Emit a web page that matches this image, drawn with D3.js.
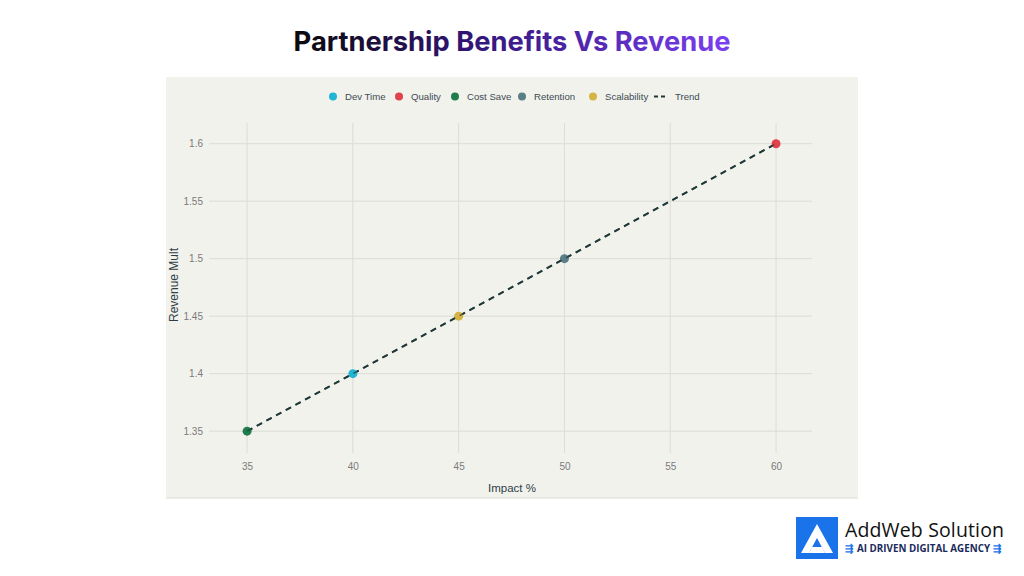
<!DOCTYPE html>
<html><head><meta charset="utf-8">
<script src="https://cdn.jsdelivr.net/npm/d3@7"></script>
<style>body{margin:0;background:#fff;}svg{display:block;font-family:"Liberation Sans",Arial,sans-serif;}</style>
</head><body>
<svg id="c" width="1024" height="576"></svg>
<script>
const categories = ["Dev Time","Quality","Cost Save","Retention","Scalability"];
const impact = [40, 60, 35, 50, 45];
const revenueMult = [1.40, 1.60, 1.35, 1.50, 1.45];
const colors = ["#22b5d3","#e0434b","#1f7d4d","#5b7f88","#d6b443"];
const trendX = [35, 60];
const trendY = [1.35, 1.60];
const xTicks = [35,40,45,50,55,60];
const yTicks = [1.35,1.40,1.45,1.50,1.55,1.60];

const svg = d3.select("#c");
const defs = svg.append("defs");
const g = defs.append("linearGradient").attr("id","tg").attr("x1","0%").attr("x2","100%");
g.append("stop").attr("offset","0%").attr("stop-color","#0a0a0a");
g.append("stop").attr("offset","42%").attr("stop-color","#32167a");
g.append("stop").attr("offset","100%").attr("stop-color","#7b3ff2");

svg.append("text").attr("x",512).attr("y",51).attr("text-anchor","middle")
  .attr("font-size",27.3).attr("font-weight",700).attr("font-family","Inter,sans-serif").attr("fill","url(#tg)")
  .text("Partnership Benefits Vs Revenue");

// panel
svg.append("rect").attr("x",166).attr("y",77).attr("width",692).attr("height",421).attr("fill","#f2f2ed");
svg.append("line").attr("x1",166).attr("x2",858).attr("y1",498).attr("y2",498).attr("stroke","#dcdcd6");

const x = d3.scaleLinear().domain([33.2,61.7]).range([209,812]);
const y = d3.scaleLinear().domain([1.331,1.618]).range([453,123]);

const grid = svg.append("g");
grid.selectAll(".vx").data(xTicks).join("line").attr("x1",d=>x(d)).attr("x2",d=>x(d))
  .attr("y1",123).attr("y2",453).attr("stroke","#dcdcd5").attr("stroke-width",1);
grid.selectAll(".hy").data(yTicks).join("line").attr("y1",d=>y(d)).attr("y2",d=>y(d))
  .attr("x1",209).attr("x2",812).attr("stroke","#dcdcd5").attr("stroke-width",1);

const xa = svg.append("g").attr("transform","translate(0,453)")
  .call(d3.axisBottom(x).tickValues(xTicks).tickSize(0).tickPadding(10).tickFormat(d3.format("d")));
const ya = svg.append("g").attr("transform","translate(209,0)")
  .call(d3.axisLeft(y).tickValues(yTicks).tickSize(0).tickPadding(6).tickFormat(d=>String(+d.toFixed(2))));
[xa,ya].forEach(a=>{a.select(".domain").remove();a.selectAll("text").attr("font-size",10).attr("fill","#7a7a7a").attr("font-family","'Liberation Sans',Arial,sans-serif");});

svg.append("text").attr("x",512).attr("y",492).attr("text-anchor","middle").attr("font-size",11.5).attr("fill","#2f3e46").text("Impact %");
svg.append("text").attr("transform","translate(178,285) rotate(-90)").attr("text-anchor","middle").attr("font-size",12).attr("fill","#2f3e46").text("Revenue Mult");

// trend
svg.append("path").datum(trendX.map((d,i)=>[d,trendY[i]]))
  .attr("d",d3.line().x(d=>x(d[0])).y(d=>y(d[1])))
  .attr("fill","none").attr("stroke","#1e3838").attr("stroke-width",2).attr("stroke-dasharray","6,5");

// points
svg.selectAll(".pt").data(categories).join("circle")
  .attr("cx",(d,i)=>x(impact[i])).attr("cy",(d,i)=>y(revenueMult[i])).attr("r",4.5)
  .attr("fill",(d,i)=>colors[i]);
svg.append("path").datum(trendX.map((d,i)=>[d,trendY[i]]))
  .attr("d",d3.line().x(d=>x(d[0])).y(d=>y(d[1])))
  .attr("fill","none").attr("stroke","#1e3838").attr("stroke-width",1.6).attr("stroke-dasharray","6,5").attr("opacity",0.7);

// legend
const leg = svg.append("g").attr("font-size",9.6).attr("fill","#3b4a52");
const legX = [333,399,455,522,593];
categories.forEach((c,i)=>{
  leg.append("circle").attr("cx",legX[i]).attr("cy",96.5).attr("r",4).attr("fill",colors[i]);
  leg.append("text").attr("x",legX[i]+12).attr("y",100).attr("fill","#3b4a52").text(c);
});
leg.append("line").attr("x1",654).attr("x2",668).attr("y1",96.5).attr("y2",96.5).attr("stroke","#1e3838").attr("stroke-width",2).attr("stroke-dasharray","4,3");
leg.append("text").attr("x",675).attr("y",100).attr("fill","#3b4a52").text("Trend");

// logo
const lg = svg.append("g");
lg.append("rect").attr("x",796).attr("y",517).attr("width",42).attr("height",42).attr("fill","#1a73e8");
lg.append("path").attr("d","M817,524 L833,553 L825,553 L817,538 L809,553 L801,553 Z").attr("fill","#fff");
lg.append("path").attr("d","M812,547 L822,547 L825,553 L809,553 Z").attr("fill","#fff");
lg.append("text").attr("x",845).attr("y",537).attr("font-size",19.5).attr("font-weight",500).attr("font-family","'Open Sans',sans-serif").attr("fill","#111").attr("textLength",159).text("AddWeb Solution");
lg.append("text").attr("x",857).attr("y",552).attr("font-size",9.8).attr("font-weight",700).attr("font-family","'Open Sans',sans-serif").attr("fill","#1a2a5a").attr("textLength",133).text("AI DRIVEN DIGITAL AGENCY");
lg.append("text").attr("x",845).attr("y",552).attr("font-size",10).attr("font-weight",700).attr("fill","#1a73e8").text("⇶");
lg.append("text").attr("x",993).attr("y",552).attr("font-size",10).attr("font-weight",700).attr("fill","#1a73e8").text("⇶");
</script>
</body></html>
